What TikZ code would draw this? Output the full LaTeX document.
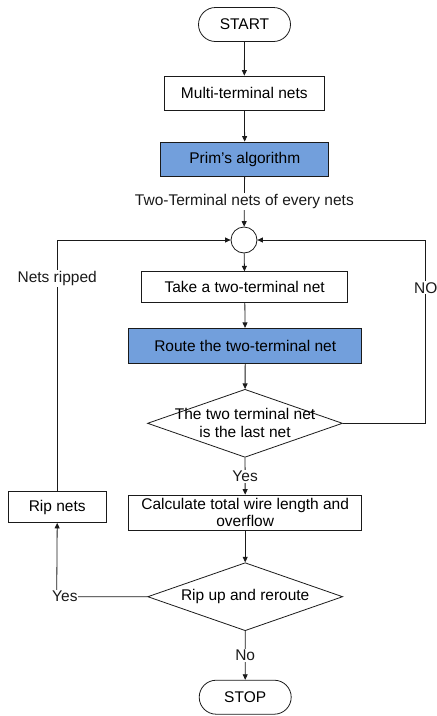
\documentclass[tikz,border=0pt]{standalone}
\usepackage{fontspec}
\setmainfont{Liberation Sans}
\usetikzlibrary{positioning,arrows.meta,shapes.geometric,shapes.misc}
\definecolor{stepblue}{HTML}{729FDC}
\definecolor{wire}{HTML}{1A1A1A}

\begin{document}
\begin{tikzpicture}[
  x=1pt, y=-1pt,
  font=\fontsize{15.5}{18}\selectfont,
  box/.style={rectangle, draw=wire, line width=0.8pt, inner sep=0pt, align=center},
  hbox/.style={box, fill=stepblue},
  term/.style={rounded rectangle, draw=wire, line width=0.8pt, inner sep=0pt,
               minimum width=92, minimum height=34},
  test/.style={diamond, draw=wire, line width=0.8pt, inner sep=0pt,
               minimum width=195, minimum height=68},
  merge/.style={circle, draw=wire, line width=0.8pt, inner sep=0pt, minimum size=26},
  ar/.style={-{Triangle[length=5.5pt, width=5pt]}, line width=0.8pt, wire},
  lbl/.style={fill=white, inner sep=1pt}
]
\useasboundingbox (0,0) rectangle (437,716);
% ----- main column -----
\node[term] (start) at (244.5,24.5) {START};
\node[box, minimum width=160, minimum height=34] (multi) at (244.3,93) {Multi-terminal nets};
\node[hbox, minimum width=168, minimum height=34] (prim) at (244.8,159) {Prim's algorithm};
\node[merge] (loop) at (244,240) {};
\node[box, minimum width=206, minimum height=31] (take) at (244.7,287.2) {Take a two-terminal net};
\node[hbox, minimum width=233, minimum height=35] (route) at (245.2,345.8) {Route the two-terminal net};
\node[test, label={[align=center, font=\fontsize{15.5}{18}\selectfont]center:The two terminal net\\is the last net}] (last) at (245,423.3) {};
\node[box, minimum width=233, minimum height=35, font=\fontsize{15.5}{17.7}\selectfont] (calc) at (245.2,512.5) {Calculate total wire length and\\overflow};
\node[test, label=center:Rip up and reroute] (rip) at (245.2,596.7) {};
\node[term] (stop) at (245.2,697.2) {STOP};
% ----- side column -----
\node[box, minimum width=98, minimum height=31] (ripnet) at (57.2,507) {Rip nets};
\coordinate (noturn) at (425.7,423.3);
\coordinate (yesturn) at (56.7,596.7);
% ----- connectors -----
\foreach \a/\b in {start/multi, multi/prim, loop/take, take/route, route/last, calc/rip}{\draw[ar] (\a) -- (\b);}
\draw[ar] (prim) -- node[lbl]{Two-Terminal nets of every nets} (loop);
\draw[ar] (last) -- node[lbl]{Yes} (calc);
\draw[ar] (rip) -- node[lbl]{No} (stop);
\draw[ar] (last.east) -- (noturn) |- node[lbl, pos=0.37]{NO} (loop.east);
\draw[ar] (rip.west) -- node[lbl, pos=0.91]{Yes} (yesturn) -- (ripnet.south);
\draw[ar] (ripnet.north) |- node[lbl, pos=0.423]{Nets ripped} (loop.west);
\end{tikzpicture}
\end{document}
